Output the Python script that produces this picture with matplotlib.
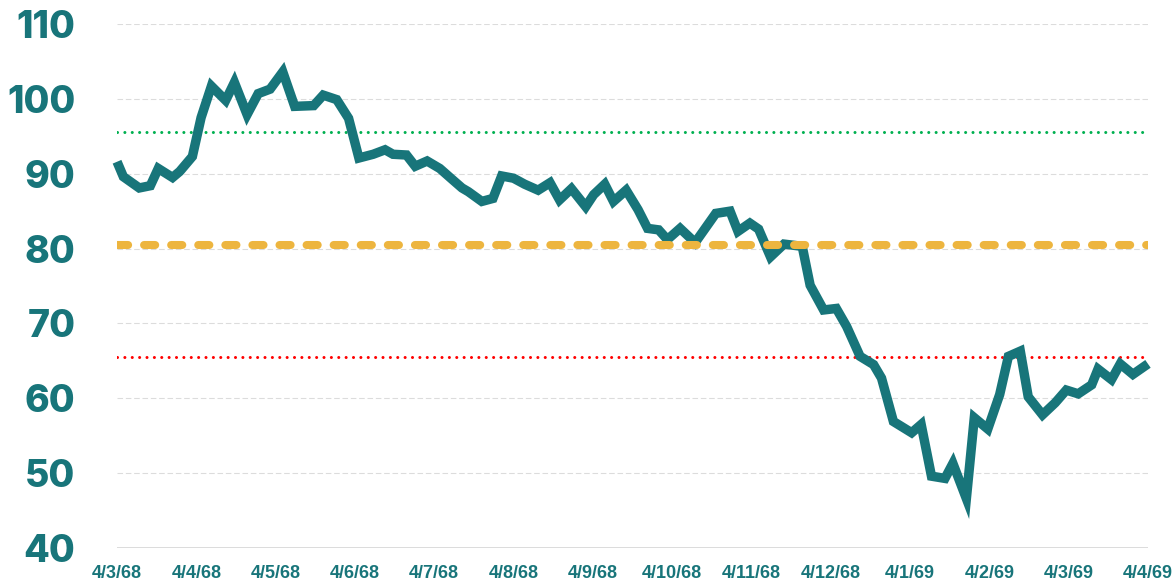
import numpy as np
import matplotlib
matplotlib.use("Agg")
import matplotlib.pyplot as plt

# x in label periods from the first label (0 = 4/3/68, 13 = 4/4/69)
t = [0.00, 0.08, 0.28, 0.42, 0.52, 0.70, 0.79, 0.95, 1.06, 1.19,
     1.37, 1.48, 1.64, 1.78, 1.93, 2.09, 2.24, 2.48, 2.60, 2.77,
     2.92, 3.05, 3.23, 3.38, 3.48, 3.65, 3.76, 3.91, 4.07, 4.22,
     4.35, 4.43, 4.60, 4.74, 4.85, 5.00, 5.14, 5.31, 5.46, 5.58,
     5.73, 5.91, 6.01, 6.15, 6.26, 6.42, 6.57, 6.69, 6.83, 6.94,
     7.10, 7.29, 7.55, 7.73, 7.83, 7.98, 8.09, 8.24, 8.41, 8.64,
     8.74, 8.91, 9.07, 9.20, 9.37, 9.54, 9.64, 9.79, 10.02, 10.14,
     10.27, 10.44, 10.54, 10.71, 10.81, 10.98, 11.13, 11.24, 11.39, 11.49,
     11.67, 11.83, 11.97, 12.12, 12.29, 12.37, 12.54, 12.65, 12.81, 13.00]
values = [91.6, 89.6, 88.1, 88.4, 90.7, 89.5, 90.3, 92.3, 97.5, 101.7,
          99.8, 102.2, 97.9, 100.7, 101.3, 103.6, 99.0, 99.1, 100.5, 99.9,
          97.4, 92.1, 92.6, 93.2, 92.6, 92.5, 91.0, 91.7, 90.7, 89.3,
          88.1, 87.6, 86.3, 86.7, 89.7, 89.4, 88.6, 87.8, 88.8, 86.5,
          88.0, 85.6, 87.2, 88.6, 86.3, 87.8, 85.2, 82.7, 82.5, 81.2,
          82.7, 80.8, 84.7, 85.0, 82.3, 83.4, 82.6, 78.9, 80.6, 80.3,
          75.1, 71.8, 72.0, 69.6, 65.6, 64.5, 62.7, 56.9, 55.4, 56.5,
          49.6, 49.3, 51.3, 46.6, 57.4, 55.9, 60.5, 65.6, 66.3, 60.2,
          57.8, 59.4, 61.1, 60.6, 61.8, 63.9, 62.5, 64.6, 63.2, 64.6]

labels = ["4/3/68", "4/4/68", "4/5/68", "4/6/68", "4/7/68", "4/8/68", "4/9/68",
          "4/10/68", "4/11/68", "4/12/68", "4/1/69", "4/2/69", "4/3/69", "4/4/69"]
yticks = [40, 50, 60, 70, 80, 90, 100, 110]

upper_level = 95.6
mid_level = 80.5
lower_level = 65.5

teal = "#18757a"
plt.rcParams["lines.scale_dashes"] = False

fig = plt.figure(figsize=(11.75, 5.87), dpi=100)
ax = fig.add_axes([0.0996, 0.0664, 0.8774, 0.8927])
ax.set_xlim(0, len(labels) - 1)
ax.set_ylim(40, 110)

# grid
for y in yticks[1:]:
    ax.axhline(y, color="#dcdcdc", lw=0.8, ls=(0, (4, 2)), zorder=1)
ax.axhline(40, color="#d6d6d6", lw=1.2, zorder=1)

# reference levels
ax.axhline(upper_level, color="#00b050", lw=2.2, ls=(0, (0.01, 5.3)),
           dash_capstyle="round", zorder=2)
ax.axhline(lower_level, color="#ff0000", lw=2.2, ls=(0, (0.01, 5.3)),
           dash_capstyle="round", zorder=2)
ax.axhline(mid_level, color="#edb53f", lw=5.8, ls=(0, (8, 11.5)),
           dash_capstyle="round", zorder=4)

ax.plot(t, values, color=teal, lw=6.8, solid_joinstyle="miter",
        solid_capstyle="butt", zorder=3, clip_on=False)

for s in ax.spines.values():
    s.set_visible(False)
ax.tick_params(length=0)
ax.set_yticks(yticks)
ax.set_yticklabels([str(v) for v in yticks], fontsize=27, fontweight=800,
                   family=["Inter", "DejaVu Sans"], color=teal)
ax.tick_params(axis="y", pad=30)
ax.set_xticks(range(len(labels)))
ax.set_xticklabels(labels, fontsize=13, family=["Liberation Sans", "DejaVu Sans"],
                   color=teal, fontweight="bold")
ax.tick_params(axis="x", pad=12)

fig.savefig("out.png", dpi=100)
